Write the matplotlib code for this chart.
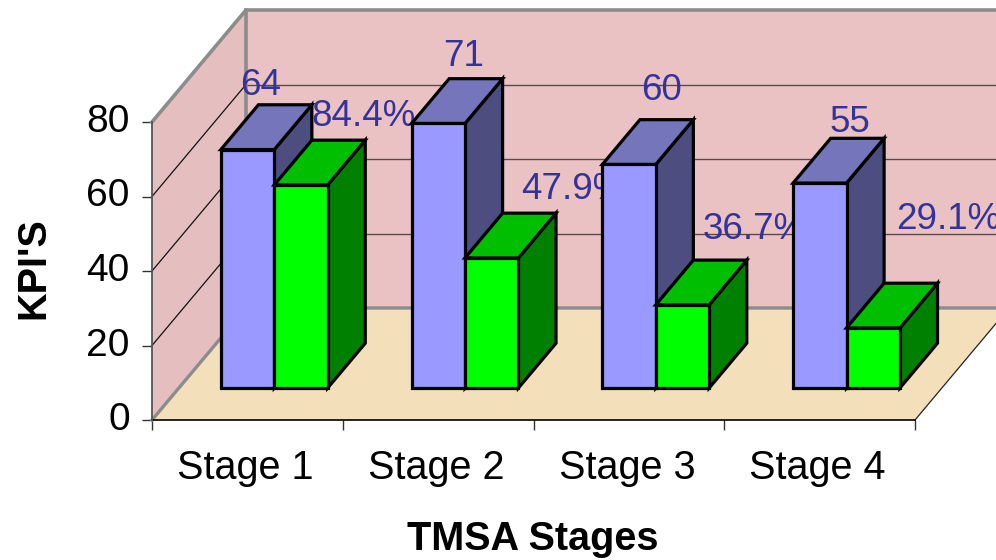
import matplotlib
matplotlib.use("Agg")
import matplotlib.pyplot as plt
from matplotlib.patches import Polygon

plt.rcParams['font.family'] = ['Liberation Sans', 'DejaVu Sans']

categories = ["Stage 1", "Stage 2", "Stage 3", "Stage 4"]
kpi_values = [64, 71, 60, 55]
tmsa_values = [54.5, 34.9, 22.3, 16.1]
kpi_labels = ["64", "71", "60", "55"]
tmsa_labels = ["84.4%", "47.9%", "36.7%", "29.1%"]
y_ticks = [0, 20, 40, 60, 80]

# label offsets from bar's front-top-left corner (px)
kpi_off = [(40, 64), (52, 67), (59, 74), (57, 61)]
tmsa_off = [(37, 68), (56, 68), (47, 75), (50, 108)]

W, H = 996, 560
fig = plt.figure(figsize=(W / 100, H / 100), dpi=100)
L, R, T, B = 152, 915, 122, 420
ax = fig.add_axes([L / W, 1 - B / H, (R - L) / W, (B - T) / H])
ax.set_xlim(0, 4)
ax.set_ylim(0, 80)

cat_px = (R - L) / 4
unit_px = (B - T) / 80
DX, DY = 94 / cat_px, 112 / unit_px      # full chart depth in data units
BAR_F, BAR_D = 0.286, 0.40               # bar front position, bar depth (fraction of chart depth)
GAP, BW = 0.22, 0.28

def poly(pts, fc, ec="none", lw=0, z=1):
    ax.add_patch(Polygon(pts, closed=True, fc=fc, ec=ec, lw=lw, zorder=z,
                         clip_on=False, joinstyle="miter"))

# walls and floor
top = y_ticks[-1]
XR = 4
poly([(0, 0), (DX, DY), (XR + DX, DY), (XR, 0)], "#F4DFBB", z=1)
poly([(0, 0), (DX, DY), (DX, DY + top), (0, top)], "#E5BFC0", z=1)
poly([(DX, DY), (XR + DX, DY), (XR + DX, DY + top), (DX, DY + top)], "#EBC2C4", z=1)

for v in y_ticks[1:-1]:
    ax.plot([0, DX], [v, v + DY], color="#111111", lw=0.9, zorder=2, clip_on=False)
    ax.plot([DX, XR + DX], [v + DY, v + DY], color="#5a4a4c", lw=1.0, zorder=2, clip_on=False)

GR = "#8C8C8C"
ax.plot([0, DX, DX], [top, top + DY, DY], color=GR, lw=2.6, zorder=2, clip_on=False)
ax.plot([DX, XR + DX], [top + DY, top + DY], color=GR, lw=2.6, zorder=2, clip_on=False)
ax.plot([0, DX, XR + DX], [0, DY, DY], color=GR, lw=2.4, zorder=2, clip_on=False)
ax.plot([XR, XR + DX], [0, DY], color="#222222", lw=0.9, zorder=2, clip_on=False)

def bar3d(x0, h, front, topc, side, z):
    fx, fy = x0 + BAR_F * DX, BAR_F * DY
    dx, dy = BAR_D * DX, BAR_D * DY
    edge = dict(ec="black", lw=2.3, z=z)
    poly([(fx + BW, fy), (fx + BW + dx, fy + dy), (fx + BW + dx, fy + dy + h), (fx + BW, fy + h)], side, **edge)
    poly([(fx, fy + h), (fx + dx, fy + dy + h), (fx + BW + dx, fy + dy + h), (fx + BW, fy + h)], topc, **edge)
    poly([(fx, fy), (fx + BW, fy), (fx + BW, fy + h), (fx, fy + h)], front, **edge)
    return fx, fy + h

z = 5
for i in range(len(categories)):
    bx, by = bar3d(i + GAP, kpi_values[i], "#9999FF", "#7575BC", "#4D4D80", z)
    gx, gy = bar3d(i + GAP + BW, tmsa_values[i], "#00FF00", "#00BF00", "#008000", z + 1)
    ax.annotate(kpi_labels[i], (bx, by), xytext=(kpi_off[i][0] * .72, kpi_off[i][1] * .72),
                textcoords="offset points", ha="center", va="center", fontsize=26.5,
                color="#333399", zorder=z + 2, annotation_clip=False)
    ax.annotate(tmsa_labels[i], (gx, gy), xytext=(tmsa_off[i][0] * .72, tmsa_off[i][1] * .72),
                textcoords="offset points", ha="left", va="center", fontsize=26.5,
                color="#333399", zorder=z + 2, annotation_clip=False)
    z += 3

for s in ("top", "right"):
    ax.spines[s].set_visible(False)
ax.spines["left"].set_color("#555555")
ax.spines["left"].set_linewidth(1.3)
ax.spines["left"].set_zorder(3)
ax.spines["bottom"].set_color("black")
ax.spines["bottom"].set_linewidth(1.2)
ax.set_facecolor("none")

ax.set_yticks(y_ticks)
ax.set_xticks(range(5))
ax.set_xticklabels([])
ax.set_xticks([i + .49 for i in range(4)], labels=categories, minor=True)
ax.tick_params(axis="x", which="major", length=7, width=1, color="#333333")
ax.tick_params(axis="x", which="minor", length=0, pad=21, labelsize=28.5)
ax.tick_params(axis="y", length=7, width=1, color="#333333", pad=9, labelsize=28)
for lab in ax.get_yticklabels():
    lab.set_y(lab.get_position()[1])
    lab.set_verticalalignment("center")

fig.text(533 / W, 1 - 539 / H, "TMSA Stages", fontsize=28.5, fontweight="bold", ha="center", va="center")
fig.text(33 / W, 1 - 268 / H, "KPI'S", fontsize=28.5, fontweight="bold", rotation=90, ha="center", va="center")

fig.savefig("out.png", dpi=100)
